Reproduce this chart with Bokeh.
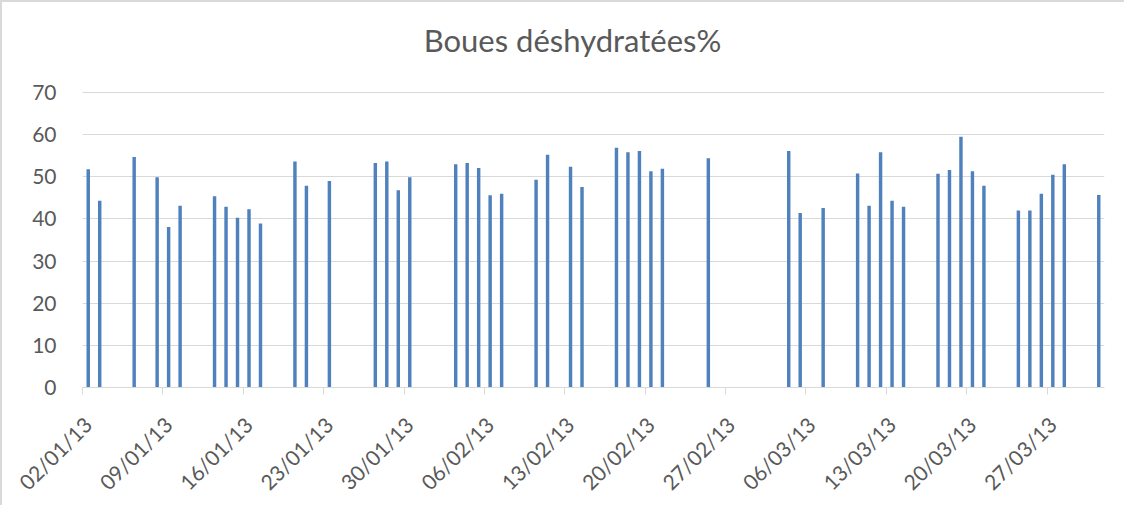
import pandas as pd
from bokeh.plotting import figure
from bokeh.models import FixedTicker, DatetimeTickFormatter, Range1d, Label
from bokeh.embed import file_html
from bokeh.resources import INLINE

title_text = "Boues déshydratées%"

dates = [
    "02/01/2013", "03/01/2013", "06/01/2013", "08/01/2013", "09/01/2013", "10/01/2013",
    "13/01/2013", "14/01/2013", "15/01/2013", "16/01/2013", "17/01/2013", "20/01/2013",
    "21/01/2013", "23/01/2013", "27/01/2013", "28/01/2013", "29/01/2013", "30/01/2013",
    "03/02/2013", "04/02/2013", "05/02/2013", "06/02/2013", "07/02/2013", "10/02/2013",
    "11/02/2013", "13/02/2013", "14/02/2013", "17/02/2013", "18/02/2013", "19/02/2013",
    "20/02/2013", "21/02/2013", "25/02/2013", "04/03/2013", "05/03/2013", "07/03/2013",
    "10/03/2013", "11/03/2013", "12/03/2013", "13/03/2013", "14/03/2013", "17/03/2013",
    "18/03/2013", "19/03/2013", "20/03/2013", "21/03/2013", "24/03/2013", "25/03/2013",
    "26/03/2013", "27/03/2013", "28/03/2013", "31/03/2013",
]
values = [
    51.8, 44.3, 54.7, 49.9, 38.1, 43.1,
    45.4, 42.9, 40.3, 42.3, 38.9, 53.6,
    47.9, 49.0, 53.3, 53.6, 46.8, 49.9,
    53.0, 53.3, 52.1, 45.6, 46.0, 49.3,
    55.2, 52.4, 47.6, 56.9, 55.8, 56.1,
    51.3, 51.9, 54.4, 56.1, 41.4, 42.6,
    50.8, 43.1, 55.8, 44.3, 42.9, 50.7,
    51.6, 59.5, 51.3, 47.9, 42.0, 42.0,
    46.0, 50.5, 53.0, 45.7,
]
tick_dates = [
    "02/01/2013", "09/01/2013", "16/01/2013", "23/01/2013", "30/01/2013", "06/02/2013",
    "13/02/2013", "20/02/2013", "27/02/2013", "06/03/2013", "13/03/2013", "20/03/2013",
    "27/03/2013",
]
x_start, x_end = "02/01/2013", "01/04/2013"
y_ticks = [0, 10, 20, 30, 40, 50, 60, 70]
y_max = 70

DAY_MS = 86400000.0
def to_ms(s):
    return pd.to_datetime(s, format="%d/%m/%Y").value / 1e6

x_centers = [to_ms(d) + DAY_MS / 2 for d in dates]
tick_ms = [to_ms(t) for t in tick_dates]

GREY = "#595959"
LINE = "#d9d9d9"

# layout: value axis spans 295 px (0..70); the frame extends upward to hold the title
AXIS_PX = 295.0
FRAME_W = 1022.0
EXTRA_PX = 80.0            # frame space above the 70 gridline
px_per_unit = AXIS_PX / y_max
y_top = y_max + EXTRA_PX / px_per_unit

p = figure(width=1124, height=505, output_backend="svg", toolbar_location=None,
           x_axis_type="datetime",
           x_range=Range1d(to_ms(x_start), to_ms(x_end)),
           y_range=Range1d(0, y_top),
           min_border_left=80, min_border_right=22, min_border_top=10, min_border_bottom=120)

p.vbar(x=x_centers, top=values, bottom=0, width=0.3 * DAY_MS,
       fill_color="#4f81bd", line_color=None)

span_ms = to_ms(x_end) - to_ms(x_start)
title = Label(x=to_ms(x_start) + span_ms * (490.0 / FRAME_W),
              y=y_max + 53.0 / px_per_unit,
              text=title_text, text_align="center", text_baseline="alphabetic",
              text_font="Lato", text_font_size="31px", text_color=GREY)
p.add_layout(title)

p.outline_line_color = None
p.xgrid.grid_line_color = None
p.ygrid.grid_line_color = LINE
p.ygrid.grid_line_width = 1

p.yaxis.ticker = FixedTicker(ticks=y_ticks)
p.yaxis.axis_line_color = None
p.yaxis.major_tick_line_color = None
p.yaxis.minor_tick_line_color = None
p.yaxis.major_label_standoff = 20
p.yaxis.major_label_text_font = "Lato"
p.yaxis.major_label_text_font_size = "21px"
p.yaxis.major_label_text_color = GREY

# labels sit a little right of the slot-start tick marks (drawn as minor ticks)
xa = p.xaxis[0]
xa.ticker = FixedTicker(ticks=[t + 0.45 * DAY_MS for t in tick_ms], minor_ticks=tick_ms)
xa.formatter = DatetimeTickFormatter(days="%d/%m/%y", months="%d/%m/%y",
                                     hours="%d/%m/%y", years="%d/%m/%y")
xa.axis_line_color = LINE
xa.major_tick_line_color = None
xa.major_tick_out = 7
xa.major_tick_in = 0
xa.minor_tick_line_color = LINE
xa.minor_tick_out = 7
xa.minor_tick_in = 0
xa.major_label_orientation = 0.785398
xa.major_label_standoff = 26
xa.major_label_text_font = "Lato"
xa.major_label_text_font_size = "21px"
xa.major_label_text_color = GREY

p.styles = {"border-left": "2px solid #d9d9d9", "border-top": "2px solid #d9d9d9"}

open("out.html", "w").write(file_html(p, INLINE))
